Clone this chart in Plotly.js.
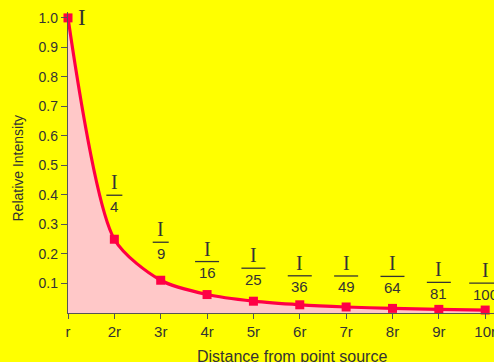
<!DOCTYPE html>
<html>
<head>
<meta charset="utf-8">
<script src="https://cdn.plot.ly/plotly-3.0.1.min.js"></script>
<style>
  html, body { margin: 0; padding: 0; background: #ffff00; }
  #chart { width: 494px; height: 362px; }
</style>
</head>
<body>
<div id="chart"></div>
<script>
// Inverse-square law: relative intensity at multiples of the source distance r
const distances = [1, 2, 3, 4, 5, 6, 7, 8, 9, 10];
const distanceLabels = ['r', '2r', '3r', '4r', '5r', '6r', '7r', '8r', '9r', '10r'];
const intensity = [1.0, 0.25, 0.111, 0.0625, 0.04, 0.0278, 0.0204, 0.0156, 0.0123, 0.01];
const denominators = ['', '4', '9', '16', '25', '36', '49', '64', '81', '100'];
const yTickValues = [0.1, 0.2, 0.3, 0.4, 0.5, 0.6, 0.7, 0.8, 0.9, 1.0];
const yTickLabels = ['0.1', '0.2', '0.3', '0.4', '0.5', '0.6', '0.7', '0.8', '0.9', '1.0'];
const xTitle = 'Distance from point source';
const yTitle = 'Relative Intensity';

// Pixel lift of each fraction bar above its point
const labelLift = [0, 44, 38, 33, 33, 29, 31, 32, 27, 27];

const sans = 'Liberation Sans, Arial, sans-serif';
const serif = 'Liberation Serif, Times New Roman, serif';
const inkColor = '#333333';
const curveColor = '#ff0044';

const annotations = [];
const shapes = [];

// Plain "I" beside the source point
annotations.push({
  x: distances[0], y: intensity[0], xref: 'x', yref: 'y',
  text: 'I', showarrow: false, xanchor: 'left', yanchor: 'middle',
  xshift: 8, yshift: 0,
  font: { family: serif, size: 23, color: inkColor }
});

// "I / n²" fractions above the remaining points
for (let i = 1; i < distances.length; i++) {
  const lift = labelLift[i];
  const barHalf = 4 + 4 * denominators[i].length;
  annotations.push({
    x: distances[i], y: intensity[i], xref: 'x', yref: 'y',
    text: 'I', showarrow: false, xanchor: 'center', yanchor: 'middle',
    yshift: lift + 13,
    font: { family: serif, size: 20, color: inkColor }
  });
  annotations.push({
    x: distances[i], y: intensity[i], xref: 'x', yref: 'y',
    text: denominators[i], showarrow: false, xanchor: 'center', yanchor: 'middle',
    yshift: lift - 11,
    font: { family: sans, size: 15, color: inkColor }
  });
  shapes.push({
    type: 'line', xref: 'x', yref: 'y',
    xsizemode: 'pixel', xanchor: distances[i], x0: -barHalf, x1: barHalf,
    ysizemode: 'pixel', yanchor: intensity[i], y0: lift, y1: lift,
    line: { color: inkColor, width: 1.3 }
  });
}

// Axis titles, placed as annotations so their offsets can be tuned
annotations.push({
  xref: 'paper', yref: 'paper', x: 0.526, y: 0,
  xanchor: 'center', yanchor: 'top', yshift: -33,
  text: xTitle, showarrow: false,
  font: { family: sans, size: 16, color: inkColor }
});
annotations.push({
  xref: 'paper', yref: 'paper', x: 0, y: 0.48,
  xanchor: 'center', yanchor: 'middle', xshift: -50,
  text: yTitle, textangle: -90, showarrow: false,
  font: { family: sans, size: 14, color: inkColor }
});

const trace = {
  x: distances,
  y: intensity,
  type: 'scatter',
  mode: 'lines+markers',
  line: { color: curveColor, width: 3.2, shape: 'spline', smoothing: 0.75 },
  marker: { symbol: 'square', size: 9, color: curveColor },
  fill: 'tozeroy',
  fillcolor: '#ffc8c8',
  cliponaxis: false,
  hoverinfo: 'skip'
};

const layout = {
  width: 494,
  height: 362,
  paper_bgcolor: '#ffff00',
  plot_bgcolor: '#ffff00',
  margin: { l: 68, r: 0, t: 12, b: 49, pad: 0 },
  showlegend: false,
  xaxis: {
    range: [1, 10.19],
    tickvals: distances,
    ticktext: distanceLabels,
    ticks: 'outside', ticklen: 5, tickwidth: 1, tickcolor: '#555555',
    ticklabeloverflow: 'allow',
    showline: true, linecolor: '#555555', linewidth: 1.2,
    showgrid: false, zeroline: false,
    tickfont: { family: sans, size: 15, color: inkColor },
    automargin: false
  },
  yaxis: {
    range: [0, 1.02],
    tickvals: yTickValues,
    ticktext: yTickLabels,
    ticks: 'outside', ticklen: 6, tickwidth: 1, tickcolor: '#555555',
    showline: true, linecolor: '#555555', linewidth: 1.2,
    showgrid: false, zeroline: false,
    tickfont: { family: sans, size: 14, color: inkColor },
    automargin: false
  },
  annotations: annotations,
  shapes: shapes
};

Plotly.newPlot('chart', [trace], layout, { displayModeBar: false, staticPlot: true });
</script>
</body>
</html>
